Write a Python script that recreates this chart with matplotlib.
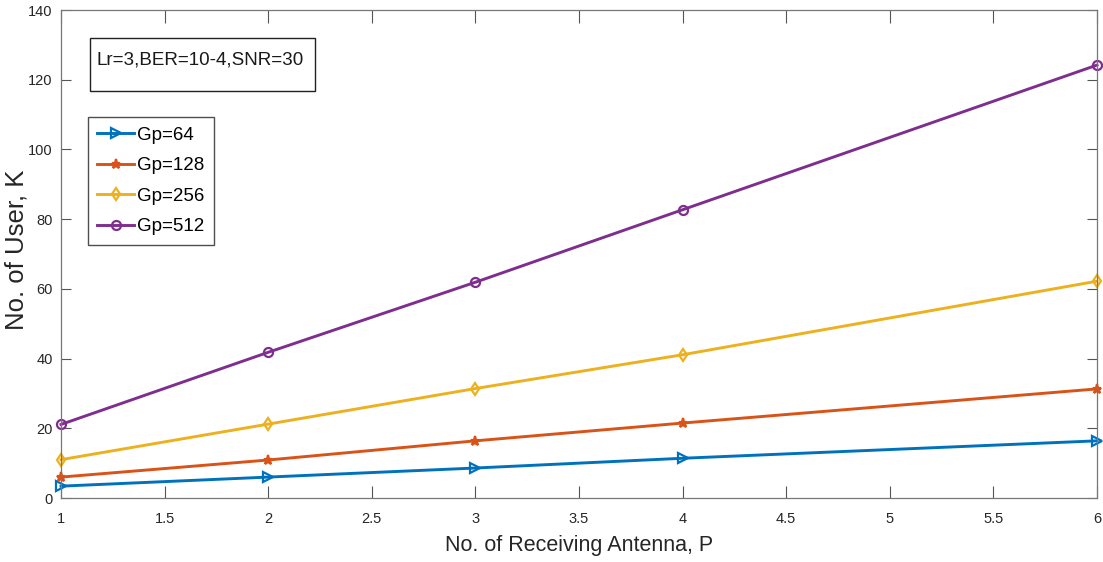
import matplotlib
matplotlib.use("Agg")
import matplotlib.pyplot as plt
from matplotlib.patches import Rectangle

plt.rcParams['font.family'] = ['Liberation Sans', 'DejaVu Sans']

# Number of receiving antennas P
antennas = [1, 2, 3, 4, 6]

# Number of users K for each processing gain
users_gp64 = [3.4, 6.0, 8.6, 11.4, 16.4]
users_gp128 = [6.0, 10.9, 16.4, 21.5, 31.3]
users_gp256 = [11.0, 21.2, 31.4, 41.1, 62.2]
users_gp512 = [21.1, 41.8, 61.9, 82.7, 124.2]

labels = ['Gp=64', 'Gp=128', 'Gp=256', 'Gp=512']
colors = ['#0072BD', '#D95319', '#EDB120', '#7E2F8E']
markers = ['>', '*', 'd', 'o']

xticks = [1, 1.5, 2, 2.5, 3, 3.5, 4, 4.5, 5, 5.5, 6]
xtick_labels = ['1', '1.5', '2', '2.5', '3', '3.5', '4', '4.5', '5', '5.5', '6']
yticks = [0, 20, 40, 60, 80, 100, 120, 140]

W, H = 1103, 562
fig = plt.figure(figsize=(W / 100, H / 100), dpi=100)
ax = fig.add_axes([61 / W, 1 - 498 / H, 1036 / W, 488 / H])

series = [users_gp64, users_gp128, users_gp256, users_gp512]
for ys, lab, c, m in zip(series, labels, colors, markers):
    ax.plot(antennas, ys, color=c, lw=2.1, marker=m, markersize=6.5,
            markerfacecolor=(c if m == '*' else 'none'),
            markeredgecolor=c, markeredgewidth=1.6, label=lab, clip_on=False)

ax.set_xlim(1, 6)
ax.set_ylim(0, 140)
ax.set_xticks(xticks)
ax.set_xticklabels(xtick_labels)
ax.set_yticks(yticks)

grey = '#262626'
ax.tick_params(direction='in', width=0.8, colors='#555555',
               labelcolor=grey, labelsize=10.5, top=True, right=True)
ax.tick_params(axis='x', length=9, pad=10)
ax.tick_params(axis='y', length=7, pad=6)
for sp in ax.spines.values():
    sp.set_color('#777777')
    sp.set_linewidth(0.9)

ax.set_xlabel('No. of Receiving Antenna, P', fontsize=15.5, color=grey)
ax.xaxis.set_label_coords(0.5, (498 - 535) / 488)
ax.set_ylabel('No. of User, K', fontsize=18.5, color=grey)
ax.yaxis.set_label_coords((28 - 61) / 1036, (498 - 250) / 488)

# Parameter annotation box
ax.add_patch(Rectangle((90 / W, 1 - 91 / H), 225 / W, 53 / H,
                       transform=fig.transFigure, fill=False,
                       edgecolor='#222222', lw=1.0, clip_on=False))
fig.text(96 / W, 1 - 60 / H, 'Lr=3,BER=10-4,SNR=30', fontsize=13.6,
         color='#1a1a1a', va='center', ha='left')

leg = ax.legend(loc='upper left', bbox_to_anchor=((88 - 61) / 1036, (498 - 117) / 488),
                frameon=True, fancybox=False, fontsize=13.5, handlelength=1.95,
                handletextpad=0.15, borderpad=0.5, labelspacing=0.72,
                borderaxespad=0)
leg.get_frame().set_edgecolor('#222222')
leg.get_frame().set_linewidth(1.0)

fig.savefig('out.png', dpi=100)
